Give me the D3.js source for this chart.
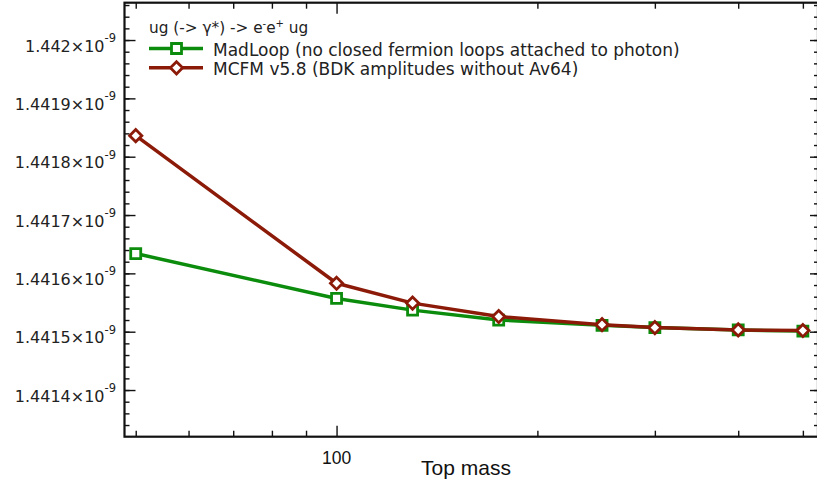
<!DOCTYPE html>
<html>
<head>
<meta charset="utf-8">
<script src="https://cdn.jsdelivr.net/npm/d3@7"></script>
<style>
  body { margin: 0; background: #ffffff; }
  .tickLabel { font-family: "DejaVu Sans", Verdana, sans-serif; font-size: 16px; fill: #222; }
  .legendText { font-family: "DejaVu Sans", Verdana, sans-serif; font-size: 17px; fill: #222; }
  .legendTitle { font-family: "DejaVu Sans", Verdana, sans-serif; font-size: 15.3px; fill: #222; }
  .xLabel { font-family: "Liberation Sans", Arial, sans-serif; fill: #111; }
</style>
</head>
<body>
<div class="chart"></div>
<script>

// Data (cross sections in units of 1e-9)
var topMass = [50, 100, 130, 175, 250, 300, 400, 500];
var madLoop = [1.441634, 1.441557, 1.441537, 1.441520, 1.441511, 1.441507, 1.441503, 1.441501];
var mcfm = [1.441836, 1.441583, 1.441549, 1.441526, 1.441512, 1.441507, 1.441503, 1.441502];

// Tick values
var xMinorTicks = [50, 60, 70, 80, 90, 200, 300, 400, 500];
var xMajorTicks = [100];
var yMajorTicks = [1.4414, 1.4415, 1.4416, 1.4417, 1.4418, 1.4419, 1.442];
var yMinorTicks = d3.range(1.44134, 1.44207, 0.00002);

var seriesNames = ["MadLoop (no closed fermion loops attached to photon)",
                   "MCFM v5.8 (BDK amplitudes without Av64)"];
var seriesColors = ["#0c8c0c", "#8c1a08"];

// Dimensions
var w = 817;
var h = 487;
var plot = {left: 124.5, right: 818, top: 2.7, bottom: 436.7};

// Scales
var x = d3.scaleLog()
      .domain([48.1, 526.8])
      .range([plot.left, plot.right]);

var y = d3.scaleLinear()
      .domain([1.44132, 1.442064])
      .range([plot.bottom, plot.top]);

var svg = d3.select(".chart")
      .append("svg")
      .attr("width", w)
      .attr("height", h);

// Frame with inward ticks on all four sides
function addTicks(axis, values, size) {
    svg.append("g")
      .attr("transform", axis.transform)
      .call(axis.gen.tickValues(values).tickSize(size).tickFormat(""))
      .call(function(g) {
          g.select(".domain").remove();
          g.selectAll("line").attr("stroke", "#111").attr("stroke-width", 1.4);
      });
}

var bottomAxis = {gen: d3.axisTop(x), transform: "translate(0," + plot.bottom + ")"};
var topAxis = {gen: d3.axisBottom(x), transform: "translate(0," + plot.top + ")"};
var leftAxis = {gen: d3.axisRight(y), transform: "translate(" + plot.left + ",0)"};
var rightAxis = {gen: d3.axisLeft(y), transform: "translate(" + plot.right + ",0)"};

addTicks(bottomAxis, xMinorTicks, 6);
addTicks(bottomAxis, xMajorTicks, 11);
addTicks(topAxis, xMinorTicks, 6);
addTicks(topAxis, xMajorTicks, 11);
addTicks(leftAxis, yMinorTicks, 5);
addTicks(leftAxis, yMajorTicks, 11);
addTicks(rightAxis, yMinorTicks, 4);
addTicks(rightAxis, yMajorTicks, 8);

svg.append("rect")
  .attr("x", plot.left)
  .attr("y", plot.top)
  .attr("width", plot.right - plot.left)
  .attr("height", plot.bottom - plot.top)
  .attr("fill", "none")
  .attr("stroke", "#111")
  .attr("stroke-width", 2.2);

// Y tick labels of the form 1.4415x10^-9
var yLabels = svg.selectAll(".yLabel")
      .data(yMajorTicks)
      .enter()
      .append("text")
      .attr("class", "tickLabel")
      .attr("text-anchor", "end")
      .attr("x", 116)
      .attr("y", function(d) { return y(d) + 11.5; });

yLabels.append("tspan")
  .text(function(d) { return d3.format("")(+d.toFixed(4)) + "\u00d710"; });

yLabels.append("tspan")
  .attr("dy", -9.5)
  .attr("font-size", "11.5px")
  .text("-9");

// X tick label and axis title
svg.append("text")
  .attr("class", "xLabel")
  .attr("x", x(100))
  .attr("y", 464)
  .attr("text-anchor", "middle")
  .attr("font-size", "17.5px")
  .text("100");

svg.append("text")
  .attr("class", "xLabel")
  .attr("x", 466)
  .attr("y", 475)
  .attr("text-anchor", "middle")
  .attr("font-size", "21px")
  .text("Top mass");

// Lines and markers
var line = d3.line()
      .x(function(d) { return x(d[0]); })
      .y(function(d) { return y(d[1]); });

var square = d3.symbol().type(d3.symbolSquare).size(100);
var diamond = d3.symbol().type(d3.symbolDiamond2).size(95);
var markers = [square, diamond];

[madLoop, mcfm].forEach(function(values, i) {
    var points = d3.zip(topMass, values);

    svg.append("path")
      .datum(points)
      .attr("d", line)
      .attr("fill", "none")
      .attr("stroke", seriesColors[i])
      .attr("stroke-width", 3.5)
      .attr("stroke-linejoin", "round");

    svg.selectAll(".marker" + i)
      .data(points)
      .enter()
      .append("path")
      .attr("transform", function(d) { return "translate(" + x(d[0]) + "," + y(d[1]) + ")"; })
      .attr("d", markers[i])
      .attr("fill", "white")
      .attr("stroke", seriesColors[i])
      .attr("stroke-width", 2.8);
});

// Legend
var legendTitle = svg.append("text")
      .attr("class", "legendTitle")
      .attr("x", 149)
      .attr("y", 33);

legendTitle.append("tspan").text("ug (-> \u03b3*) -> e");
legendTitle.append("tspan").attr("dy", -6).attr("font-size", "10px").text("-");
legendTitle.append("tspan").attr("dy", 6).text("e");
legendTitle.append("tspan").attr("dy", -6).attr("font-size", "10px").text("+");
legendTitle.append("tspan").attr("dy", 6).text(" ug");

seriesNames.forEach(function(name, i) {
    var ly = 48.5 + i * 19.3;

    svg.append("line")
      .attr("x1", 149)
      .attr("x2", 203)
      .attr("y1", ly)
      .attr("y2", ly)
      .attr("stroke", seriesColors[i])
      .attr("stroke-width", 3.5);

    svg.append("path")
      .attr("transform", "translate(176.5," + ly + ")")
      .attr("d", markers[i])
      .attr("fill", "white")
      .attr("stroke", seriesColors[i])
      .attr("stroke-width", 2.8);

    svg.append("text")
      .attr("class", "legendText")
      .attr("x", 213)
      .attr("y", ly + 7)
      .text(name);
});

</script>
</body>
</html>
